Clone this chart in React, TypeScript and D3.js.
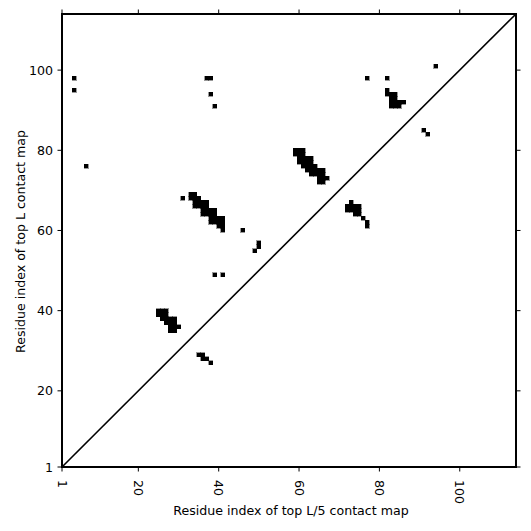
import React from 'react';
import * as d3 from 'd3';

const seqLength = 114;
const xTickValues = [1, 20, 40, 60, 80, 100];
const yTickValues = [1, 20, 40, 60, 80, 100];
const xLabel = 'Residue index of top L/5 contact map';
const yLabel = 'Residue index of top L contact map';

// isolated contacts [x, y]
const sparseContacts: [number, number][] = [
  [4, 98], [4, 95], [7, 76], [37, 98], [38, 98], [38, 94], [39, 91],
  [94, 101], [77, 98], [82, 98], [91, 85], [92, 84],
  [31, 68], [46, 60], [50, 57], [50, 56], [49, 55], [39, 49], [41, 49],
  [35, 29], [36, 29], [36, 28], [37, 28], [38, 27],
];

const clusterA: [number, number][] = [
  [25, 39], [25, 40], [26, 38], [26, 39], [26, 40], [27, 37], [27, 38], [27, 39], [27, 40],
  [28, 35], [28, 36], [28, 37], [28, 38], [29, 35], [29, 36], [29, 37], [29, 38], [30, 36],
];

const clusterB: [number, number][] = [
  [33, 68], [33, 69], [34, 66], [34, 67], [34, 68], [34, 69], [35, 66], [35, 67], [35, 68],
  [36, 64], [36, 65], [36, 66], [36, 67], [37, 64], [37, 65], [37, 66], [37, 67],
  [38, 62], [38, 63], [38, 64], [38, 65], [39, 62], [39, 63], [39, 64], [39, 65],
  [40, 61], [40, 62], [40, 63], [41, 60], [41, 61], [41, 62], [41, 63],
];

const clusterC: [number, number][] = [
  [59, 79], [59, 80], [60, 77], [60, 78], [60, 79], [60, 80], [61, 76], [61, 77], [61, 78], [61, 79], [61, 80],
  [62, 75], [62, 76], [62, 77], [62, 78], [63, 74], [63, 75], [63, 76], [63, 77], [63, 78],
  [64, 74], [64, 75], [64, 76], [65, 72], [65, 73], [65, 74], [65, 75],
  [66, 72], [66, 73], [66, 74], [66, 75], [67, 73],
];

const clusterD: [number, number][] = [
  [72, 65], [72, 66], [73, 65], [73, 66], [73, 67], [74, 64], [74, 65], [74, 66],
  [75, 64], [75, 65], [75, 66], [76, 63], [77, 61], [77, 62],
];

const clusterE: [number, number][] = [
  [82, 94], [82, 95], [83, 91], [83, 92], [83, 93], [83, 94], [84, 91], [84, 92], [84, 93], [84, 94],
  [85, 91], [85, 92], [86, 92],
];

const allContacts = [...sparseContacts, ...clusterA, ...clusterB, ...clusterC, ...clusterD, ...clusterE];

const W = 531;
const H = 531;
const left = 62;
const right = 516;
const top = 14;
const bottom = 467;
const font = '"DejaVu Sans", sans-serif';
const fs = 12.6;

export default function App() {
  const x = d3.scaleLinear().domain([1, seqLength]).range([left, right]);
  const y = d3.scaleLinear().domain([1, seqLength]).range([bottom, top]);
  const cw = x(1.5) - x(0.5);
  const ch = y(0.5) - y(1.5);
  const tickLen = 4.5;

  return (
    <svg width={W} height={H} style={{ position: 'absolute', left: 0, top: 0, background: '#fff' }}>
      <rect x={0} y={0} width={W} height={H} fill="#fff" />
      <g shapeRendering="crispEdges">
        {allContacts.map((c, i) => (
          <rect key={i} x={x(c[0] - 0.5)} y={y(c[1] + 0.5)} width={cw} height={ch} fill="#000" stroke="#000" strokeWidth={0.4} />
        ))}
      </g>
      <line x1={x(1)} y1={y(1)} x2={x(seqLength)} y2={y(seqLength)} stroke="#000" strokeWidth={1.6} />
      <rect x={left} y={top} width={right - left} height={bottom - top} fill="none" stroke="#000" strokeWidth={2} />
      {xTickValues.map((t) => (
        <g key={'x' + t}>
          <line x1={x(t)} x2={x(t)} y1={bottom} y2={bottom + tickLen} stroke="#000" strokeWidth={1} />
          <line x1={x(t)} x2={x(t)} y1={top} y2={top - tickLen} stroke="#000" strokeWidth={1} />
          <text
            transform={`translate(${x(t)},${bottom + 13}) rotate(90)`}
            textAnchor="start"
            dominantBaseline="central"
            fontFamily={font}
            fontSize={fs}
            fill="#000"
          >
            {t}
          </text>
        </g>
      ))}
      {yTickValues.map((t) => (
        <g key={'y' + t}>
          <line x1={left} x2={left - tickLen} y1={y(t)} y2={y(t)} stroke="#000" strokeWidth={1} />
          <line x1={right} x2={right + tickLen} y1={y(t)} y2={y(t)} stroke="#000" strokeWidth={1} />
          <text
            x={left - 9}
            y={y(t)}
            textAnchor="end"
            dominantBaseline="central"
            fontFamily={font}
            fontSize={fs}
            fill="#000"
          >
            {t}
          </text>
        </g>
      ))}
      <text x={(left + right) / 2 + 2} y={515} textAnchor="middle" fontFamily={font} fontSize={fs} fill="#000">
        {xLabel}
      </text>
      <text
        transform={`translate(${20},${(top + bottom) / 2 + 1}) rotate(-90)`}
        textAnchor="middle"
        dominantBaseline="central"
        fontFamily={font}
        fontSize={fs}
        fill="#000"
      >
        {yLabel}
      </text>
    </svg>
  );
}
